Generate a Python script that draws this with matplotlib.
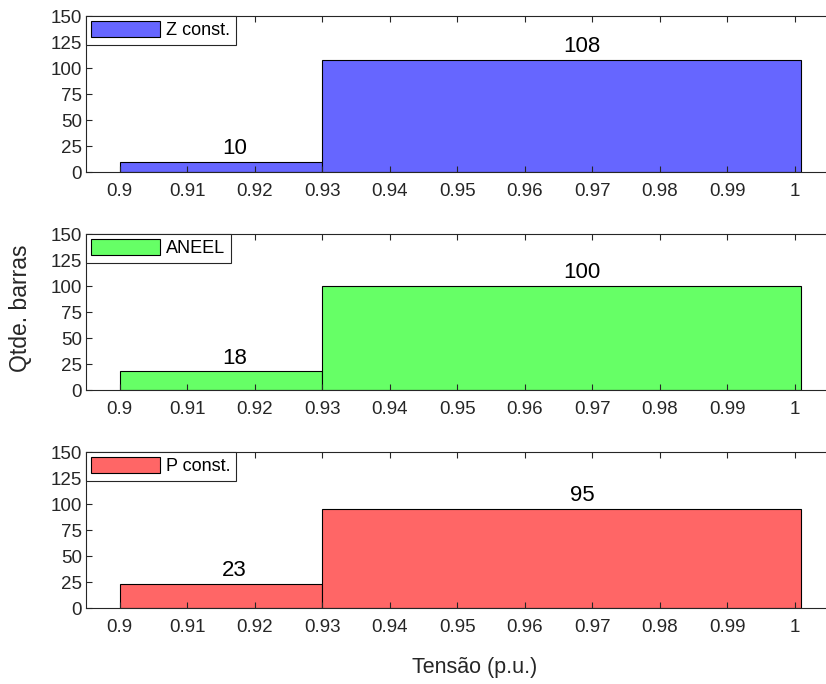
import matplotlib.pyplot as plt
from matplotlib.ticker import FormatStrFormatter

plt.rcParams['font.family'] = ['Liberation Sans', 'DejaVu Sans']

# Bin edges (p.u.) and counts per load model
bin_edges = [0.9, 0.93, 1.001]
series_names = ["Z const.", "ANEEL", "P const."]
counts_z = [10, 108]
counts_aneel = [18, 100]
counts_p = [23, 95]
all_counts = [counts_z, counts_aneel, counts_p]
colors = ["#6666FF", "#66FF66", "#FF6666"]

x_ticks = [0.9, 0.91, 0.92, 0.93, 0.94, 0.95, 0.96, 0.97, 0.98, 0.99, 1.0]
y_ticks = [0, 25, 50, 75, 100, 125, 150]
label_x = [0.917, 0.9685]

fig = plt.figure(figsize=(8.26, 6.84), dpi=100)

# axes bottoms in figure fraction (pixel measurements from the reference)
bottoms = [0.7485, 0.4298, 0.1111]
ax_left = 86 / 826
ax_width = 1.0 - ax_left
ax_height = 156 / 684
tick_color = "#262626"

for i, counts in enumerate(all_counts):
    ax = fig.add_axes([ax_left, bottoms[i], ax_width, ax_height])
    lefts = bin_edges[:-1]
    widths = [bin_edges[k + 1] - bin_edges[k] for k in range(len(lefts))]
    ax.bar(lefts, counts, width=widths, align="edge", color=colors[i],
           edgecolor="black", linewidth=0.8, label=series_names[i])
    for x, c in zip(label_x, counts):
        ax.annotate(str(c), (x, c), xytext=(0, 2), textcoords="offset points",
                    ha="center", va="bottom", fontsize=16, color="black")

    ax.set_xlim(0.895, 0.895 + ax_width * 826 / 6750)
    ax.set_ylim(0, 150)
    ax.set_xticks(x_ticks)
    ax.set_yticks(y_ticks)
    ax.xaxis.set_major_formatter(FormatStrFormatter("%g"))
    ax.tick_params(axis="x", direction="in", top=True, length=4,
                   labelsize=13.5, colors=tick_color, pad=8)
    ax.tick_params(axis="y", direction="in", length=4,
                   labelsize=13.5, colors=tick_color, pad=3)
    for side in ["left", "bottom", "top"]:
        ax.spines[side].set_color(tick_color)
        ax.spines[side].set_linewidth(0.8)
    ax.spines["right"].set_visible(False)

    leg = ax.legend(loc="upper left", borderaxespad=0, fancybox=False,
                    fontsize=13, handlelength=3.8, handleheight=0.95,
                    handletextpad=0.35, borderpad=0.3, framealpha=1)
    leg.get_frame().set_edgecolor(tick_color)
    leg.get_frame().set_linewidth(0.8)

fig.text(21 / 826, 1 - 308 / 684, "Qtde. barras", rotation=90,
         ha="center", va="center", fontsize=16.5, color=tick_color)
fig.text(475 / 826, 1 - 667 / 684, "Tensão (p.u.)",
         ha="center", va="center", fontsize=15.5, color=tick_color)

fig.savefig("out.png", dpi=100)
